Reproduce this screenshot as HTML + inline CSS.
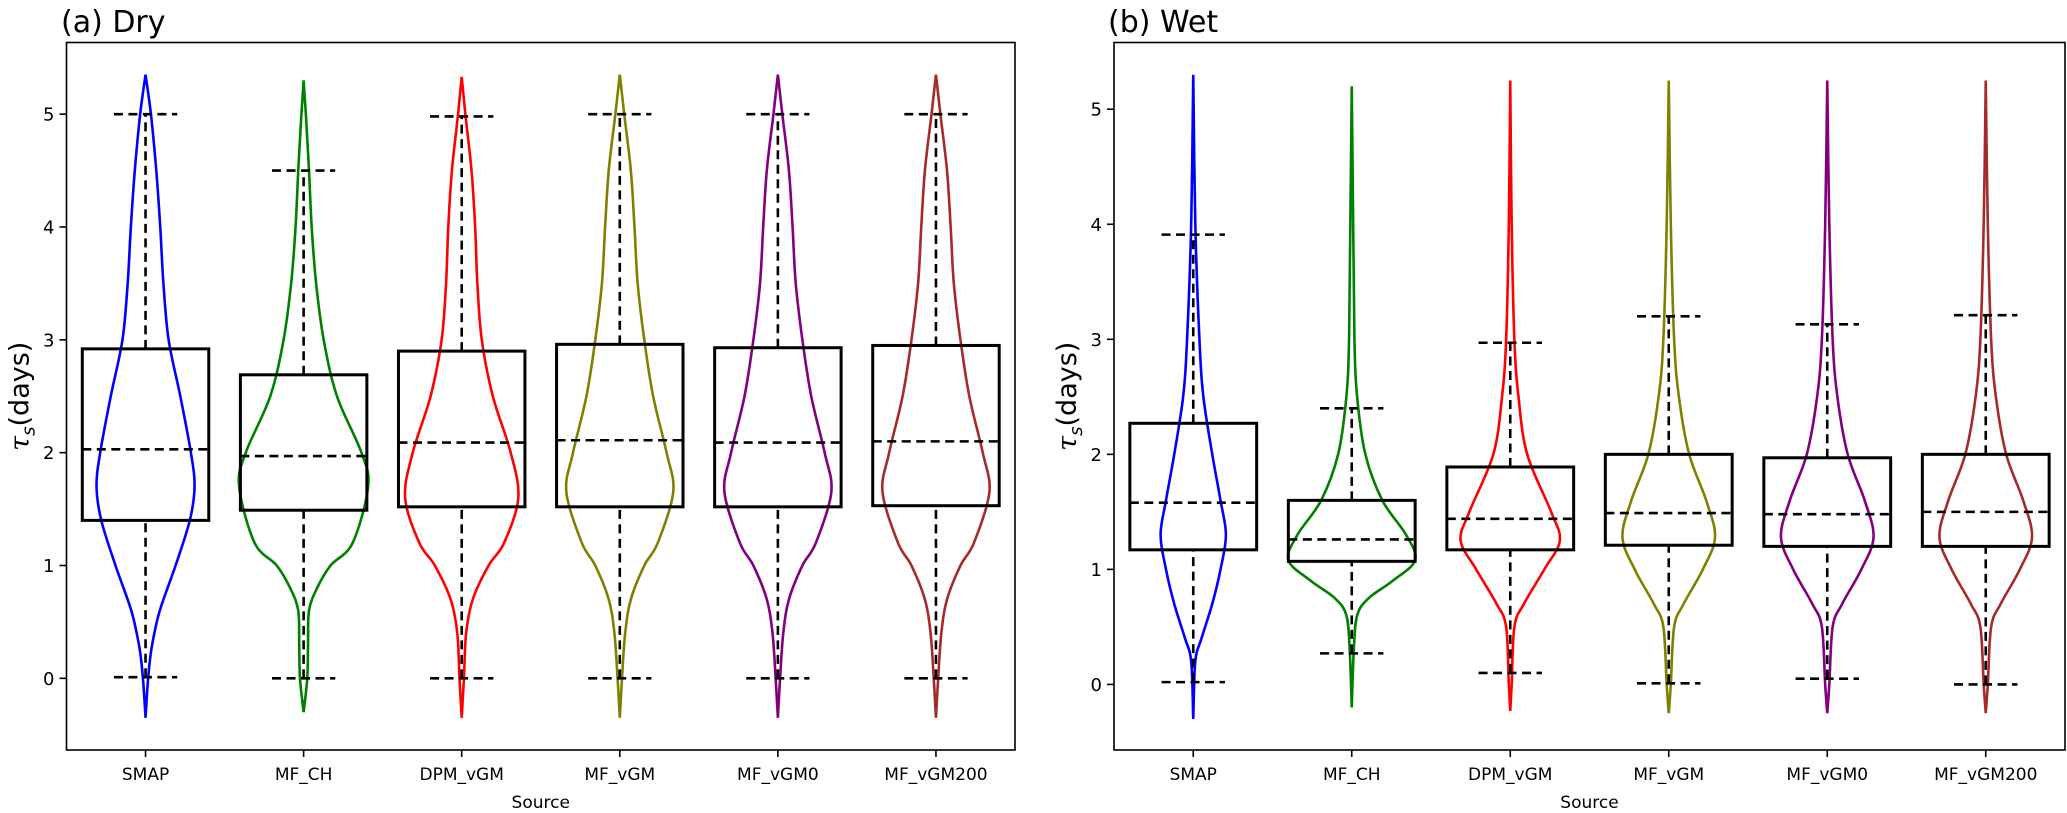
<!DOCTYPE html>
<html><head><meta charset="utf-8"><style>
body{margin:0;background:#fff}
svg{display:block;font-family:"DejaVu Sans","Liberation Sans",sans-serif}
</style></head><body>
<svg id="chart" width="2067" height="813" viewBox="0 0 2067 813" xmlns="http://www.w3.org/2000/svg"></svg>
<script>
const categories = ["SMAP","MF_CH","DPM_vGM","MF_vGM","MF_vGM0","MF_vGM200"];
const colors = ["#0000ff","#008000","#ff0000","#808000","#800080","#a52a2a"];
const yTicks = [0,1,2,3,4,5];
// box stats: [whiskerLo, q1, median, q3, whiskerHi]
const dryStats = [[0.01,1.40,2.03,2.92,5.0],[0.0,1.49,1.97,2.69,4.5],[0.0,1.52,2.09,2.90,4.98],[0.0,1.52,2.11,2.96,5.0],[0.0,1.52,2.09,2.93,5.0],[0.0,1.53,2.10,2.95,5.0]];
const wetStats = [[0.02,1.17,1.58,2.27,3.91],[0.27,1.07,1.26,1.60,2.40],[0.10,1.17,1.44,1.89,2.97],[0.01,1.21,1.49,2.00,3.20],[0.05,1.20,1.48,1.97,3.13],[0.0,1.20,1.50,2.00,3.21]];
// violin profiles: value levels and half-widths (category units)
const dryLevels = [
 [-0.35,-0.1,0.1,0.3,0.6,1.0,1.4,1.7,2.0,2.5,3.0,3.5,4.0,4.5,5.0,5.35],
 [-0.3,0,0.3,0.6,0.8,1.0,1.2,1.7,2.0,2.5,3.0,3.5,4.0,4.5,5.0,5.3],
 [-0.35,0,0.4,0.7,1.0,1.2,1.6,2.0,2.5,3.0,3.5,4.0,4.5,5.0,5.33],
 [-0.35,0,0.4,0.7,1.0,1.2,1.65,2.0,2.5,3.0,3.5,4.0,4.5,5.0,5.35],
 [-0.35,0,0.4,0.7,1.0,1.2,1.65,2.0,2.5,3.0,3.5,4.0,4.5,5.0,5.35],
 [-0.35,0,0.4,0.7,1.0,1.2,1.65,2.0,2.5,3.0,3.5,4.0,4.5,5.0,5.35]];
const dryWidths = [
 [0,0.011,0.023,0.042,0.09,0.19,0.28,0.31,0.287,0.22,0.146,0.113,0.093,0.068,0.034,0],
 [0,0.023,0.028,0.034,0.085,0.17,0.31,0.408,0.366,0.211,0.127,0.079,0.051,0.034,0.014,0],
 [0,0.014,0.028,0.07,0.17,0.268,0.358,0.31,0.197,0.127,0.099,0.085,0.062,0.023,0],
 [0,0.014,0.034,0.07,0.155,0.24,0.338,0.296,0.211,0.155,0.113,0.093,0.07,0.028,0],
 [0,0.014,0.034,0.07,0.155,0.24,0.338,0.296,0.211,0.155,0.113,0.093,0.07,0.028,0],
 [0,0.014,0.034,0.07,0.155,0.24,0.338,0.296,0.211,0.155,0.113,0.093,0.07,0.028,0]];
const wetLevels = [
 [-0.3,0.2,0.4,0.7,1.0,1.3,1.6,2.0,2.5,3.0,4.0,5.3],
 [-0.2,0.3,0.6,0.75,0.9,1.08,1.3,1.6,2.0,2.5,3.0,4.0,5.2],
 [-0.23,0,0.5,0.7,1.0,1.25,1.5,2.0,2.5,3.0,4.0,5.25],
 [-0.25,0,0.5,0.7,1.0,1.28,1.6,2.0,2.5,3.0,4.0,5.25],
 [-0.25,0,0.5,0.7,1.0,1.28,1.6,2.0,2.5,3.0,4.0,5.25],
 [-0.25,0,0.5,0.7,1.0,1.28,1.6,2.0,2.5,3.0,4.0,5.25]];
const wetWidths = [
 [0,0.013,0.052,0.12,0.172,0.206,0.172,0.12,0.064,0.039,0.013,0],
 [0,0.013,0.034,0.107,0.258,0.4,0.343,0.193,0.086,0.034,0.017,0.009,0],
 [0,0.009,0.026,0.086,0.215,0.313,0.258,0.107,0.052,0.026,0.009,0],
 [0,0.013,0.034,0.094,0.215,0.292,0.236,0.129,0.064,0.034,0.013,0],
 [0,0.013,0.034,0.094,0.215,0.292,0.236,0.129,0.064,0.034,0.013,0],
 [0,0.013,0.034,0.094,0.215,0.292,0.236,0.129,0.064,0.034,0.013,0]];

const NS="http://www.w3.org/2000/svg";
const svg=document.getElementById('chart');
function mk(tag,attrs,parent){const e=document.createElementNS(NS,tag);for(const k in attrs)e.setAttribute(k,attrs[k]);(parent||svg).appendChild(e);return e;}

function smoothPath(pts){
  let d="M"+pts[0][0].toFixed(2)+","+pts[0][1].toFixed(2);
  for(let i=0;i<pts.length-1;i++){
    const p0=pts[Math.max(0,i-1)],p1=pts[i],p2=pts[i+1],p3=pts[Math.min(pts.length-1,i+2)];
    const c1=[p1[0]+(p2[0]-p0[0])/6,p1[1]+(p2[1]-p0[1])/6];
    const c2=[p2[0]-(p3[0]-p1[0])/6,p2[1]-(p3[1]-p1[1])/6];
    d+="C"+c1[0].toFixed(2)+","+c1[1].toFixed(2)+" "+c2[0].toFixed(2)+","+c2[1].toFixed(2)+" "+p2[0].toFixed(2)+","+p2[1].toFixed(2);
  }
  return d;
}

function panel(cfg){
  const {left,right,top,bottom,ymin,ymax,stats,levels,widths,title,titleX,prefix}=cfg;
  const g=mk('g',{});
  
  
  const n=categories.length;
  const xs=i=>left+(i+0.5)*(right-left)/n;
  const unit=(right-left)/n;
  const ys=v=>bottom-(v-ymin)/(ymax-ymin)*(bottom-top);
  for(let i=0;i<n;i++){
    const cx=xs(i);
    const rightSide=levels[i].map((v,k)=>[cx+widths[i][k]*unit,ys(v)]);
    const leftSide=levels[i].map((v,k)=>[cx-widths[i][k]*unit,ys(v)]).reverse();
    const p=mk('path',{d:smoothPath(rightSide)+" "+smoothPath(leftSide).replace('M','L'),fill:'none',stroke:colors[i],'stroke-width':2.6},g);
    
    
  }
  for(let i=0;i<n;i++){
    const cx=xs(i),s=stats[i],bw=0.4*unit,cw=0.2*unit;
    const bg=mk('g',{},g);
    
    
    const dash={stroke:'#000','stroke-width':2.6,'stroke-dasharray':'9,5.5',fill:'none'};
    mk('line',Object.assign({x1:cx,x2:cx,y1:ys(s[0]),y2:ys(s[1])},dash),bg);
    mk('line',Object.assign({x1:cx,x2:cx,y1:ys(s[3]),y2:ys(s[4])},dash),bg);
    mk('line',Object.assign({x1:cx-cw,x2:cx+cw,y1:ys(s[0]),y2:ys(s[0])},dash),bg);
    mk('line',Object.assign({x1:cx-cw,x2:cx+cw,y1:ys(s[4]),y2:ys(s[4])},dash),bg);
    mk('rect',{x:cx-bw,y:ys(s[3]),width:2*bw,height:ys(s[1])-ys(s[3]),fill:'none',stroke:'#000','stroke-width':3},bg);
    mk('line',Object.assign({x1:cx-bw,x2:cx+bw,y1:ys(s[2]),y2:ys(s[2])},dash),bg);
  }
  const fr=mk('rect',{x:left,y:top,width:right-left,height:bottom-top,fill:'none',stroke:'#000','stroke-width':1.6},g);
  
  
  yTicks.forEach(t=>{
    const y=ys(t);
    mk('line',{x1:left-7,x2:left,y1:y,y2:y,stroke:'#000','stroke-width':1.6},g);
    const tx=mk('text',{x:left-12,y:y+6.5,'text-anchor':'end','font-size':18},g);
    tx.textContent=t;
    
    
  });
  categories.forEach((c,i)=>{
    const x=xs(i);
    mk('line',{x1:x,x2:x,y1:bottom,y2:bottom+7,stroke:'#000','stroke-width':1.6},g);
    const tx=mk('text',{x:x,y:780,'text-anchor':'middle','font-size':17},g);
    tx.textContent=c;
    
    
  });
  const xl=mk('text',{x:(left+right)/2,y:808,'text-anchor':'middle','font-size':17},g);
  xl.textContent="Source";
  
  
  const yl=mk('text',{x:0,y:0,'text-anchor':'middle','font-size':27,transform:`translate(${left-38},${(top+bottom)/2}) rotate(-90)`},g);
  yl.innerHTML='<tspan font-style="italic" font-family="DejaVu Serif, serif">τ</tspan><tspan font-size="18" dy="6" font-style="italic">s</tspan><tspan dy="-6">(days)</tspan>';
  
  
  const ti=mk('text',{x:titleX,y:32,'font-size':30},g);
  ti.textContent=title;
  
  
}
panel({left:66.5,right:1015,top:42.5,bottom:750,ymin:-0.635,ymax:5.635,stats:dryStats,levels:dryLevels,widths:dryWidths,title:"(a) Dry",titleX:61,prefix:'dry'});
panel({left:1114,right:2065,top:42.5,bottom:750,ymin:-0.57,ymax:5.58,stats:wetStats,levels:wetLevels,widths:wetWidths,title:"(b) Wet",titleX:1108,prefix:'wet'});
</script>
</body></html>
